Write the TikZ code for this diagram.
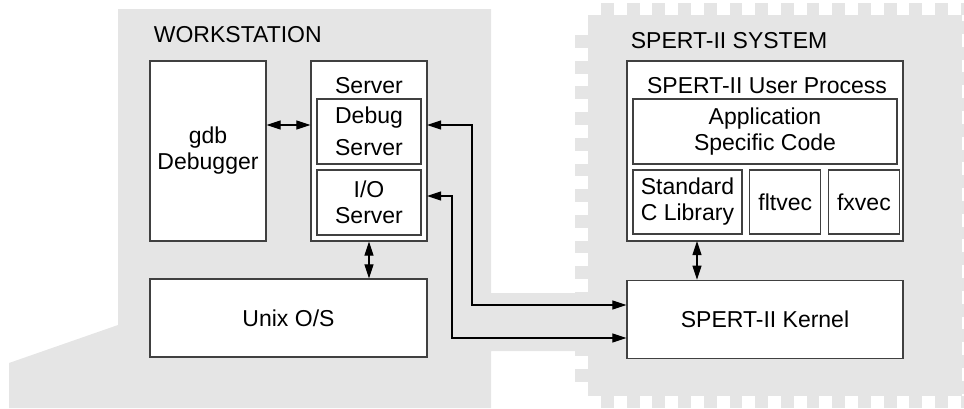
\documentclass[tikz,border=0pt]{standalone}
\usepackage{fontspec}
\setmainfont{Liberation Sans}
\usetikzlibrary{arrows.meta,positioning}

\definecolor{shade}{gray}{0.9}
\definecolor{edge}{gray}{0.25}

\begin{document}
\begin{tikzpicture}
[x=1pt,y=-1pt,>={Triangle[length=14pt,width=9pt]},line width=1.1pt,
 font=\fontsize{23}{26}\selectfont]
\tikzstyle{box}=[draw=edge,fill=white,inner sep=0pt,align=center,line width=1.2pt]
\tikzstyle{region}=[fill=shade,draw=none]
\useasboundingbox (0,0) rectangle (964,408);

% workstation area, with the strip that joins it to the board
\fill[region] (118,9) -- (491,9) -- (491,293) -- (590,293) -- (590,351)
  -- (491,351) -- (491,408) -- (9,408) -- (9,363) -- (118,325) -- cycle;

% board area and its notched rim
\fill[region] (588,15) rectangle (962,396);
\foreach \i in {0,...,14} {
  \fill[region] ({601+25.7*\i},3) rectangle +(12.8,12);
  \fill[region] ({601+25.7*\i},396) rectangle +(12.8,12);
  \fill[region] (962,{21+25.7*\i}) rectangle +(13,12.8);
}
\foreach \j in {0,...,13}
  \fill[region] (575,{35+25.7*\j}) rectangle +(13,12.8);

\node[anchor=base west] (wstitle) at (150,42) {WORKSTATION};
\node[anchor=base west] (systitle) at (627,48) {SPERT-II SYSTEM};

% host side
\node[box,minimum width=116pt,minimum height=180pt] (gdb) at (208,151) {gdb\\Debugger};
\node[box,minimum width=116pt,minimum height=180pt] (server) at (369,151) {};
\node[anchor=base] (srvtitle) at (369,93) {Server};
\node[box,minimum width=104pt,minimum height=65pt] (debugsrv) at (369,131.5) {Debug\\[6pt]Server};
\node[box,minimum width=104pt,minimum height=65pt] (iosrv) at (369,202.5) {I/O\\Server};
\node[box,minimum width=277pt,minimum height=78pt] (unix) at (288.5,318) {Unix O/S};

% board side
\node[box,minimum width=276pt,minimum height=180pt] (userproc) at (765,151) {};
\node[anchor=base] (proctitle) at (767,93) {SPERT-II User Process};
\node[box,minimum width=264pt,minimum height=65pt] (appcode) at (765,131.5) {Application\\Specific Code};
\node[box,minimum width=109pt,minimum height=64pt,align=left] (stdlib) at (687.5,202) {Standard\\C Library};
\node[box,minimum width=71pt,minimum height=64pt,right=6.5pt of stdlib] (fltvec) {fltvec};
\node[box,minimum width=71pt,minimum height=64pt,right=6.5pt of fltvec] (fxvec) {fxvec};
\node[box,minimum width=276pt,minimum height=78pt,below=38pt of userproc] (kernel) {SPERT-II Kernel};

\coordinate (dbgport) at (427,125);
\coordinate (ioport) at (427,196);
\coordinate (dbgdrop) at (472,305);
\coordinate (iodrop) at (452,338);
\coordinate (uplink) at (697,241);

\draw[<->] (gdb.east |- dbgport) -- (server.west |- dbgport);
\draw[<->] (server.south) -- (server.south |- unix.north);
\draw[<->] (uplink) -- (uplink |- kernel.north);
\draw[<->] (dbgport) -| (dbgdrop) -- (dbgdrop -| kernel.west);
\draw[<->] (ioport) -| (iodrop) -- (iodrop -| kernel.west);
\end{tikzpicture}
\end{document}
